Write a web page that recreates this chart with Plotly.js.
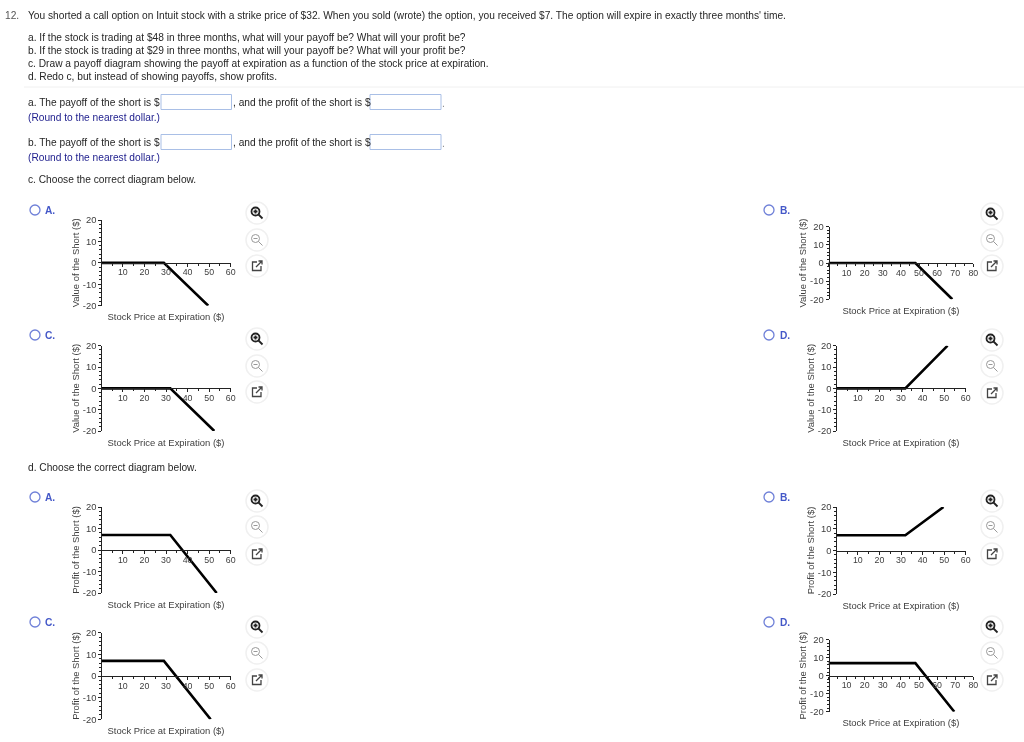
<!DOCTYPE html>
<html><head><meta charset="utf-8">
<script src="https://cdn.plot.ly/plotly-3.0.1.min.js"></script>
<style>html,body{margin:0;padding:0;background:#fff;overflow:hidden}#p{width:1024px;height:742px;filter:blur(0.3px)}</style>
</head><body><div id="p"></div>
<script>
// ---- values ----
const xTicks60 = [10,20,30,40,50,60];
const xTicks80 = [10,20,30,40,50,60,70,80];
const yTicks = [-20,-10,0,10,20];
const yTickLabels = ['-20','-10','0','10','20'];
const xMaxNarrow = 60, xMaxWide = 80;
const payoffTitle = 'Value of the Short ($)';
const profitTitle = 'Profit of the Short ($)';
const priceTitle = 'Stock Price at Expiration ($)';

const cA_x = [0,29,49.6],  cA_y = [0,0,-20];
const cB_x = [0,48,68.4],  cB_y = [0,0,-20];
const cC_x = [0,32,52.4],  cC_y = [0,0,-20];
const cD_x = [0,32,51.6],  cD_y = [0,0,20];
const dA_x = [0,32,53.5],  dA_y = [7,7,-20];
const dB_x = [0,32,49.7],  dB_y = [7,7,20];
const dC_x = [0,29,50.7],  dC_y = [7,7,-20];
const dD_x = [0,48,69.5],  dD_y = [7,7,-20];

// ---- page layout (pixels) ----
const W = 1024, H = 742;
const px = x => x / W, py = y => 1 - y / H;
const panels = [
 {xs:cA_x,ys:cA_y,xmax:xMaxNarrow,ticks:xTicks60,l:101.3,r:230.7,t:220,  b:305.7,yt:payoffTitle,cx:257,iy:[213,240,266]},
 {xs:cB_x,ys:cB_y,xmax:xMaxWide,  ticks:xTicks80,l:828.5,r:973.3,t:226.7,b:299.3,yt:payoffTitle,cx:992,iy:[214,240,266]},
 {xs:cC_x,ys:cC_y,xmax:xMaxNarrow,ticks:xTicks60,l:101.3,r:230.7,t:345.7,b:431,  yt:payoffTitle,cx:257,iy:[339,366,392]},
 {xs:cD_x,ys:cD_y,xmax:xMaxNarrow,ticks:xTicks60,l:836.3,r:965.7,t:345.7,b:431,  yt:payoffTitle,cx:992,iy:[340,366,393]},
 {xs:dA_x,ys:dA_y,xmax:xMaxNarrow,ticks:xTicks60,l:101.3,r:230.7,t:507,  b:593,  yt:profitTitle,cx:257,iy:[501,527,554]},
 {xs:dB_x,ys:dB_y,xmax:xMaxNarrow,ticks:xTicks60,l:836.3,r:965.7,t:507,  b:594,  yt:profitTitle,cx:992,iy:[501,527,554]},
 {xs:dC_x,ys:dC_y,xmax:xMaxNarrow,ticks:xTicks60,l:101.3,r:230.7,t:632.7,b:719.3,yt:profitTitle,cx:257,iy:[627,653,680]},
 {xs:dD_x,ys:dD_y,xmax:xMaxWide,  ticks:xTicks80,l:828.5,r:973.3,t:639.7,b:711.7,yt:profitTitle,cx:992,iy:[627,653,680]},
];
const FONT = 'Liberation Sans, Arial, sans-serif';
const AX = '#222222', TXT = '#3d3d3d';
const BLUE = '#4458c8', NAVY = '#1c1c8c';
const BODY = 10.2;

const data = [], layout = {
  width:W, height:H, margin:{l:0,r:0,t:0,b:0}, showlegend:false,
  paper_bgcolor:'#fff', plot_bgcolor:'rgba(0,0,0,0)', font:{family:FONT,color:TXT,size:9},
  annotations:[], shapes:[], hovermode:false
};

panels.forEach((p,i)=>{
  const n = i+1, xk = 'xaxis'+(i?n:''), yk = 'yaxis'+(i?n:''), xa='x'+(i?n:''), ya='y'+(i?n:'');
  data.push({type:'scatter',mode:'lines',x:p.xs,y:p.ys,xaxis:xa,yaxis:ya,cliponaxis:false,
    line:{color:'#000',width:2.6,shape:'linear'},hoverinfo:'skip'});
  const zero = (p.t+p.b)/2;
  layout[xk] = {domain:[px(p.l),px(p.r)],range:[0,p.xmax],anchor:'free',position:py(zero),
    showgrid:false,zeroline:false,showline:true,linecolor:AX,linewidth:1,
    tickmode:'array',tickvals:p.ticks,ticktext:p.ticks.map(String),ticks:'outside',ticklen:3,tickcolor:AX,tickwidth:1,
    ticklabelstandoff:-2,
    tickfont:{family:FONT,size:8.8,color:TXT},
    minor:{dtick:5,ticks:'outside',ticklen:2,tickcolor:AX,tickwidth:1,showgrid:false},
    title:{text:priceTitle,font:{family:FONT,size:9.45,color:TXT},standoff:(p.b-zero)-6},fixedrange:true};
  layout[yk] = {domain:[py(p.b),py(p.t)],range:[-20,20],anchor:'free',side:'left',position:px(p.l),
    showgrid:false,zeroline:false,showline:true,linecolor:AX,linewidth:1,
    tickmode:'array',tickvals:yTicks,ticktext:yTickLabels,ticks:'outside',ticklen:3,tickcolor:AX,tickwidth:1,
    tickfont:{family:FONT,size:9.4,color:TXT},
    minor:{dtick:2,ticks:'outside',ticklen:2,tickcolor:AX,tickwidth:1,showgrid:false},
    title:{text:p.yt,font:{family:FONT,size:9.45,color:TXT},standoff:0},fixedrange:true};
  // zoom buttons
  p.iy.forEach((cy,j)=>{
    layout.shapes.push({type:'circle',xref:'paper',yref:'paper',x0:px(p.cx-11),x1:px(p.cx+11),y0:py(cy+11),y1:py(cy-11),
      fillcolor:'#fff',line:{color:'#f0f0f0',width:1.5},layer:'below'});
    const col = j===0?'#222':(j===1?'#999':'#444');
    const sw = j===0?1.8:(j===1?1:1.3);
    const path = (d)=>layout.shapes.push({type:'path',xref:'paper',yref:'paper',path:d,line:{color:col,width:sw},layer:'above'});
    const P = (x,y)=>px(p.cx+x)+','+py(cy+y);
    if(j<2){
      layout.shapes.push({type:'circle',xref:'paper',yref:'paper',x0:px(p.cx-5.5),x1:px(p.cx+2.5),y0:py(cy+2.5),y1:py(cy-5.5),
        line:{color:col,width:sw},fillcolor:'rgba(0,0,0,0)',layer:'above'});
      path('M'+P(1.5,1.5)+' L'+P(5.5,5.5));
      path('M'+P(-3.5,-1.5)+' L'+P(0.5,-1.5));
      if(j===0) path('M'+P(-1.5,-3.5)+' L'+P(-1.5,0.5));
    } else {
      path('M'+P(0,-4)+' L'+P(-4.5,-4)+' L'+P(-4.5,4.5)+' L'+P(4,4.5)+' L'+P(4,0));
      path('M'+P(-1,1)+' L'+P(5,-5)+' M'+P(1.5,-5)+' L'+P(5,-5)+' L'+P(5,-1.5));
    }
  });
});

// ---- page text ----
const note = (x,y,text,opts={})=>layout.annotations.push(Object.assign({
  xref:'paper',yref:'paper',x:px(x),y:py(y+0.4),text,showarrow:false,xanchor:'left',yanchor:'middle',
  font:{family:FONT,size:BODY,color:'#262626'},borderpad:0,borderwidth:0},opts));
note(5,15,'12.',{font:{family:FONT,size:BODY,color:'#555'}});
note(28,15,"You shorted a call option on Intuit stock with a strike price of $32. When you sold (wrote) the option, you received $7. The option will expire in exactly three months' time.");
note(28,37,'a. If the stock is trading at $48 in three months, what will your payoff be? What will your profit be?');
note(28,50,'b. If the stock is trading at $29 in three months, what will your payoff be? What will your profit be?');
note(28,63,'c. Draw a payoff diagram showing the payoff at expiration as a function of the stock price at expiration.');
note(28,76,'d. Redo c, but instead of showing payoffs, show profits.');
[[102,117,'a'],[142,157,'b']].forEach(([y,y2,k])=>{
  note(28,y,k+'. The payoff of the short is $');
  note(233,y,', and the profit of the short is $');
  note(442,y+1,'.',{font:{family:FONT,size:BODY,color:'#888'}});
  note(28,y2,'(Round to the nearest dollar.)',{font:{family:FONT,size:BODY,color:NAVY}});
  [[161,231.5],[370,441]].forEach(([a,b])=>layout.shapes.push({type:'rect',xref:'paper',yref:'paper',
    x0:px(a),x1:px(b),y0:py(y+7.5),y1:py(y-7.5),line:{color:'#a9bfe6',width:1},fillcolor:'#fff',layer:'below'}));
});
note(28,179,'c. Choose the correct diagram below.');
note(28,467,'d. Choose the correct diagram below.');
layout.shapes.push({type:'line',xref:'paper',yref:'paper',x0:px(24),x1:px(1024),y0:py(87),y1:py(87),line:{color:'#f0f0f0',width:1},layer:'below'});

[[35,210,45,'A.'],[769,210,780,'B.'],[35,335,45,'C.'],[769,335,780,'D.'],
 [35,497,45,'A.'],[769,497,780,'B.'],[35,622,45,'C.'],[769,622,780,'D.']].forEach(([cx,cy,tx,t])=>{
  layout.shapes.push({type:'circle',xref:'paper',yref:'paper',x0:px(cx-5),x1:px(cx+5),y0:py(cy+5),y1:py(cy-5),
    line:{color:'#6f80d8',width:1.3},fillcolor:'#fff',layer:'below'});
  note(tx,cy,'<b>'+t+'</b>',{font:{family:FONT,size:BODY,color:BLUE}});
});

Plotly.newPlot('p',data,layout,{staticPlot:true,displayModeBar:false});
</script></body></html>
